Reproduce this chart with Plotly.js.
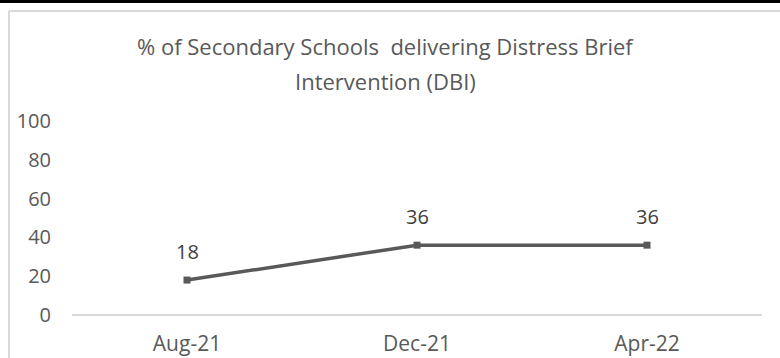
<!DOCTYPE html>
<html>
<head>
<meta charset="utf-8">
<script src="https://cdn.plot.ly/plotly-3.0.1.min.js"></script>
<style>
  html, body { margin: 0; padding: 0; background: #ffffff; }
  #chart { width: 780px; height: 358px; }
</style>
</head>
<body>
<div id="chart"></div>
<script>
// Survey months and share of secondary schools delivering DBI (%)
const months = ['Aug-21', 'Dec-21', 'Apr-22'];
const pctSchools = [18, 36, 36];
const yTicks = [0, 20, 40, 60, 80, 100];
const titleLines = ['% of Secondary Schools  delivering Distress Brief', 'Intervention (DBI)'];

const W = 780, H = 358;
const M = { l: 72, r: 18, t: 121, b: 43 };
const plotW = W - M.l - M.r, plotH = H - M.t - M.b;
// convert page pixels to paper fractions for the frame and heading
const px = x => (x - M.l) / plotW;
const py = y => (H - M.b - y) / plotH;

const textColor = '#595959';
const fontFamily = '"Open Sans", sans-serif';

const trace = {
  type: 'scatter',
  mode: 'lines+markers',
  x: months,
  y: pctSchools,
  line: { color: '#595959', width: 3.5 },
  marker: { symbol: 'square', size: 7, color: '#595959' },
  hoverinfo: 'x+y',
  cliponaxis: false
};

// value labels above each point
const valueLabels = months.map((m, i) => ({
  x: m, y: pctSchools[i], xref: 'x', yref: 'y',
  text: String(pctSchools[i]), showarrow: false,
  yshift: 29, font: { family: fontFamily, size: 20, color: '#404040' }
}));

const headingLabels = titleLines.map((t, i) => ({
  xref: 'paper', yref: 'paper', x: px(385), y: py(i === 0 ? 46 : 81),
  xanchor: 'center', yanchor: 'middle', text: t, showarrow: false,
  font: { family: fontFamily, size: 22, color: textColor }
}));

const layout = {
  width: W, height: H,
  margin: M,
  paper_bgcolor: '#ffffff', plot_bgcolor: '#ffffff',
  showlegend: false,
  font: { family: fontFamily, size: 20, color: textColor },
  xaxis: {
    type: 'category', range: [-0.5, months.length - 0.5],
    showgrid: false, zeroline: false, showline: false,
    ticks: '', ticklabelstandoff: 14,
    tickfont: { family: fontFamily, size: 21, color: textColor },
    fixedrange: true
  },
  yaxis: {
    range: [0, 100], tickvals: yTicks, showgrid: false,
    zeroline: true, zerolinecolor: '#d9d9d9', zerolinewidth: 2,
    showline: false, ticks: '', ticklabelstandoff: 20,
    tickfont: { family: fontFamily, size: 20, color: textColor },
    fixedrange: true
  },
  shapes: [
    // outer chart frame (open to the right and bottom edges)
    { type: 'line', xref: 'paper', yref: 'paper', x0: px(9), x1: px(9), y0: py(11), y1: py(H + 5),
      line: { color: '#d9d9d9', width: 2 } },
    { type: 'line', xref: 'paper', yref: 'paper', x0: px(9), x1: px(W + 5), y0: py(11), y1: py(11),
      line: { color: '#d9d9d9', width: 2 } },
    // dark rule across the top of the page
    { type: 'line', xref: 'paper', yref: 'paper', x0: px(-5), x1: px(W + 5), y0: py(1.5), y1: py(1.5),
      line: { color: '#000000', width: 3 } }
  ],
  annotations: headingLabels.concat(valueLabels)
};

Plotly.newPlot('chart', [trace], layout, { displayModeBar: false, staticPlot: true });
</script>
</body>
</html>
